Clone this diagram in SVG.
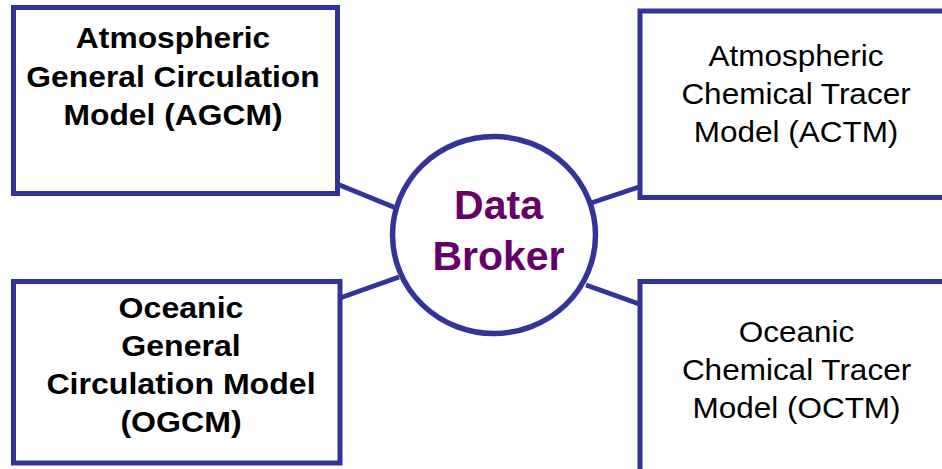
<svg xmlns="http://www.w3.org/2000/svg" width="942" height="469" viewBox="0 0 942 469">
<style>
.box{fill:#fff;stroke:#333399;stroke-width:5}
.hub{fill:#fff;stroke:#333399;stroke-width:5.5}
.con{stroke:#333399;stroke-width:5;fill:none}
.b{font-family:"Liberation Sans",Arial,sans-serif;font-weight:bold;font-size:30px;fill:#000;text-anchor:middle}
.r{font-family:"Liberation Sans",Arial,sans-serif;font-size:30px;fill:#000;text-anchor:middle}
.hubt{font-family:"Liberation Sans",Arial,sans-serif;font-weight:bold;font-size:41px;fill:#660066;text-anchor:middle}
</style>
<rect width="942" height="469" fill="#fff"/>
<g id="connectors">
<line class="con" x1="337" y1="184" x2="396" y2="208"/>
<line class="con" x1="591" y1="203" x2="642" y2="186"/>
<line class="con" x1="340" y1="298" x2="399" y2="277"/>
<line class="con" x1="586" y1="285" x2="642" y2="305"/>
</g>
<g id="agcm">
<rect class="box" x="13.5" y="7.5" width="324" height="186"/>
<g transform="translate(173,0) scale(1.06,1)">
<text class="b" x="0" y="48.5">Atmospheric</text>
<text class="b" x="0" y="87">General Circulation</text>
<text class="b" x="0" y="125.5">Model (AGCM)</text>
</g>
</g>
<g id="actm">
<rect class="box" x="640" y="11" width="320" height="186.5"/>
<g transform="translate(796,0) scale(1.05,1)">
<text class="r" x="0" y="66">Atmospheric</text>
<text class="r" x="0" y="104">Chemical Tracer</text>
<text class="r" x="0" y="142">Model (ACTM)</text>
</g>
</g>
<g id="ogcm">
<rect class="box" x="13.5" y="281.5" width="326.5" height="181.5"/>
<g transform="translate(181,0) scale(1.07,1)">
<text class="b" x="0" y="318">Oceanic</text>
<text class="b" x="0" y="356">General</text>
<text class="b" x="0" y="394">Circulation Model</text>
<text class="b" x="0" y="432">(OGCM)</text>
</g>
</g>
<g id="octm">
<rect class="box" x="640" y="281.5" width="320" height="200"/>
<g transform="translate(796.5,0) scale(1.05,1)">
<text class="r" x="0" y="342">Oceanic</text>
<text class="r" x="0" y="380">Chemical Tracer</text>
<text class="r" x="0" y="418">Model (OCTM)</text>
</g>
</g>
<g id="broker">
<ellipse class="hub" cx="494" cy="235" rx="101.5" ry="98.5"/>
<text class="hubt" x="498.5" y="219">Data</text>
<text class="hubt" x="498.5" y="270">Broker</text>
</g>
</svg>
